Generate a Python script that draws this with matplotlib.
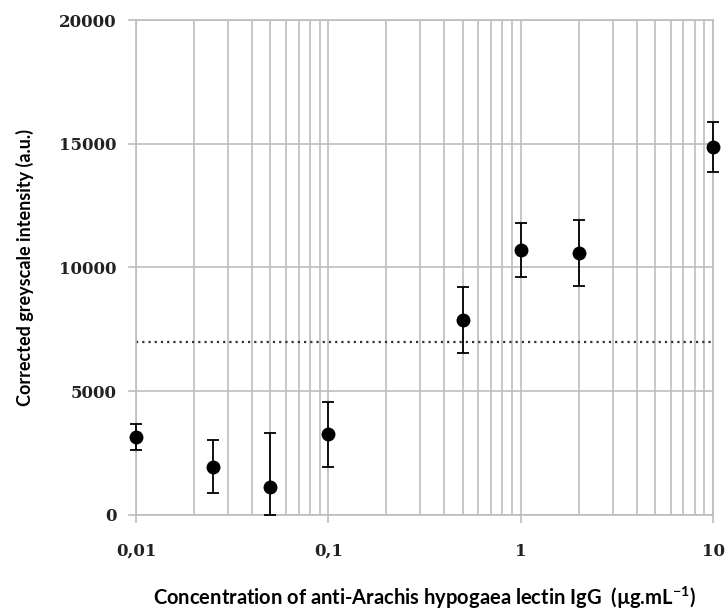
import numpy as np
import matplotlib.pyplot as plt
from matplotlib.ticker import FixedLocator, FixedFormatter, LogLocator, NullFormatter

# values
conc = [0.01, 0.025, 0.05, 0.1, 0.5, 1, 2, 10]
intensity = [3150, 1950, 1130, 3250, 7880, 10720, 10600, 14870]
err_up = [520, 1060, 2170, 1330, 1320, 1070, 1330, 1000]
err_down = [520, 1060, 1130, 1330, 1320, 1110, 1350, 1010]
threshold = 7000

xticks = [0.01, 0.1, 1, 10]
xtick_labels = ['0,01', '0,1', '1', '10']
yticks = [0, 5000, 10000, 15000, 20000]

plt.rcParams['mathtext.default'] = 'regular'

fig = plt.figure(figsize=(7.27, 6.1), dpi=100)
ax = fig.add_axes([0.187, 0.156, 0.794, 0.811])

grid_c = '#bdbdbd'
ax.set_xscale('log')
ax.set_xlim(0.01, 10)
ax.set_ylim(0, 20000)

ax.xaxis.set_major_locator(FixedLocator(xticks))
ax.xaxis.set_major_formatter(FixedFormatter(xtick_labels))
ax.xaxis.set_minor_locator(LogLocator(base=10, subs=np.arange(2, 10)))
ax.xaxis.set_minor_formatter(NullFormatter())
ax.set_yticks(yticks)
ax.set_yticklabels([str(v) for v in yticks])

ax.grid(True, which='major', color=grid_c, lw=1.2)
ax.grid(True, which='minor', axis='x', color=grid_c, lw=1.2)
ax.set_axisbelow(True)
for s in ax.spines.values():
    s.set_color(grid_c)
    s.set_linewidth(1.2)

ax.tick_params(axis='both', which='major', color=grid_c, length=6, width=1.2,
               pad=8, labelsize=12)
ax.tick_params(axis='x', which='major', pad=14)
ax.tick_params(axis='x', which='minor', length=0)
for lbl in ax.get_xticklabels() + ax.get_yticklabels():
    lbl.set_family('DejaVu Serif')
    lbl.set_fontweight('bold')
    lbl.set_color('#222222')

ax.axhline(threshold, color='#333333', lw=1.6, ls=(0, (1, 1.8)), zorder=2)

ax.errorbar(conc, intensity, yerr=[err_down, err_up], fmt='o', color='black',
            ms=9, ecolor='black', elinewidth=1.3, capsize=4.5, capthick=1.3,
            zorder=3, clip_on=False)

ax.set_ylabel('Corrected greyscale intensity (a.u.)', family=['Lato', 'DejaVu Sans'],
              fontweight='bold', fontsize=13, labelpad=18)
ax.set_xlabel(r'Concentration of anti-Arachis hypogaea lectin IgG  (µg.mL$^{-1}$)',
              family=['Lato', 'DejaVu Sans'], fontweight='bold', fontsize=14.5, labelpad=18)

fig.savefig('out.png', dpi=100)
